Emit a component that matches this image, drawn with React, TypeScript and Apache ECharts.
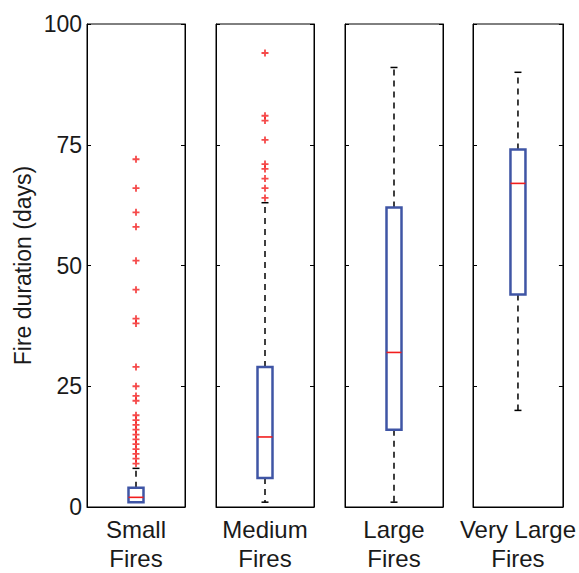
import React, { useEffect, useRef } from "react";
import * as echarts from "echarts";

const categories = ["Small\nFires", "Medium\nFires", "Large\nFires", "Very Large\nFires"];
const lowWhisker = [1, 1, 1, 20];
const q1 = [1, 6, 16, 44];
const median = [2, 14.5, 32, 67];
const q3 = [4, 29, 62, 74];
const highWhisker = [8, 63, 91, 90];
const outliers: number[][] = [
  [72, 66, 61, 58, 51, 45, 39, 38, 29, 25, 23, 22, 19, 18, 17, 16, 15, 14, 13, 12, 11, 10, 9],
  [94, 81, 80, 76, 71, 70, 68, 66, 64],
  [],
  [],
];
const yTicks = [0, 25, 50, 75, 100];

const FONT = "'Liberation Sans', Arial, Helvetica, sans-serif";
const gridLefts = [87, 216, 345, 473];
const gridWidth = 98;
const gridTop = 24;
const gridHeight = 488;

const plusPath = "path://M-0.9,-3.5H0.9V-0.9H3.5V0.9H0.9V3.5H-0.9V0.9H-3.5V-0.9H-0.9Z";

export default function App() {
  const ref = useRef<HTMLDivElement>(null);
  useEffect(() => {
    document.body.style.margin = "0";
    const chart = echarts.init(ref.current!, null, { renderer: "svg" });
    const grids: any[] = [];
    const xAxes: any[] = [];
    const yAxes: any[] = [];
    const series: any[] = [];
    categories.forEach((cat, i) => {
      grids.push({
        left: gridLefts[i],
        top: gridTop,
        width: gridWidth,
        height: gridHeight,
        show: true,
        borderColor: "#000",
        borderWidth: 1,
        backgroundColor: "#fff",
      });
      xAxes.push({
        type: "category",
        gridIndex: i,
        data: [cat],
        axisLine: { show: true, lineStyle: { color: "#000", width: 1 } },
        axisTick: { show: false },
        axisLabel: {
          color: "#1a1a1a",
          fontFamily: FONT,
          fontSize: 24,
          lineHeight: 29,
          margin: 8,
        },
        splitLine: { show: false },
      });
      yAxes.push({
        type: "value",
        gridIndex: i,
        min: 0,
        max: 100,
        interval: 25,
        position: "left",
        axisLine: { show: true, lineStyle: { color: "#000", width: 1 } },
        axisTick: { show: true, inside: true, length: 4, lineStyle: { color: "#000" } },
        axisLabel: {
          show: i === 0,
          color: "#1a1a1a",
          fontFamily: FONT,
          fontSize: 23,
          margin: 5,
          formatter: (v: number) => (yTicks.includes(v) ? String(v) : ""),
        },
        splitLine: { show: false },
        name: i === 0 ? "Fire duration (days)" : "",
        nameLocation: "middle",
        nameGap: 53,
        nameTextStyle: { color: "#1a1a1a", fontFamily: FONT, fontSize: 23 },
      });
      yAxes.push({
        type: "value",
        gridIndex: i,
        min: 0,
        max: 100,
        interval: 25,
        position: "right",
        axisLine: { show: true, lineStyle: { color: "#000", width: 1 } },
        axisTick: { show: true, inside: true, length: 4, lineStyle: { color: "#000" } },
        axisLabel: { show: false },
        splitLine: { show: false },
      });
      series.push({
        type: "custom",
        xAxisIndex: i,
        yAxisIndex: 2 * i,
        data: [[0, lowWhisker[i], q1[i], median[i], q3[i], highWhisker[i]]],
        renderItem: (params: any, api: any) => {
          const lo = api.coord([0, api.value(1)]);
          const b1 = api.coord([0, api.value(2)]);
          const md = api.coord([0, api.value(3)]);
          const b3 = api.coord([0, api.value(4)]);
          const hi = api.coord([0, api.value(5)]);
          const cx = lo[0];
          const hw = 7.5;
          const cw = 3.5;
          const dash = { stroke: "#000", lineWidth: 1.5, lineDash: [6, 5] };
          const cap = { stroke: "#000", lineWidth: 1.5 };
          return {
            type: "group",
            children: [
              { type: "line", shape: { x1: cx, y1: b3[1], x2: cx, y2: hi[1] }, style: dash },
              { type: "line", shape: { x1: cx, y1: b1[1], x2: cx, y2: lo[1] }, style: dash },
              { type: "line", shape: { x1: cx - cw, y1: hi[1], x2: cx + cw, y2: hi[1] }, style: cap },
              { type: "line", shape: { x1: cx - cw, y1: lo[1], x2: cx + cw, y2: lo[1] }, style: cap },
              {
                type: "rect",
                shape: { x: cx - hw, y: b3[1], width: 2 * hw, height: b1[1] - b3[1] },
                style: { fill: "#fff", stroke: "#3F55A5", lineWidth: 2.5 },
              },
              {
                type: "line",
                shape: { x1: cx - hw, y1: md[1], x2: cx + hw, y2: md[1] },
                style: { stroke: "#F21D1D", lineWidth: 1.6 },
              },
            ],
          };
        },
      });
      series.push({
        type: "scatter",
        xAxisIndex: i,
        yAxisIndex: 2 * i,
        symbol: plusPath,
        symbolSize: 7,
        itemStyle: { color: "#F21D1D" },
        data: outliers[i].map((v) => [0, v]),
      });
    });
    chart.setOption({
      animation: false,
      backgroundColor: "#fff",
      grid: grids,
      xAxis: xAxes,
      yAxis: yAxes,
      series,
    });
    return () => chart.dispose();
  }, []);
  return <div ref={ref} style={{ width: 579, height: 573 }} />;
}
